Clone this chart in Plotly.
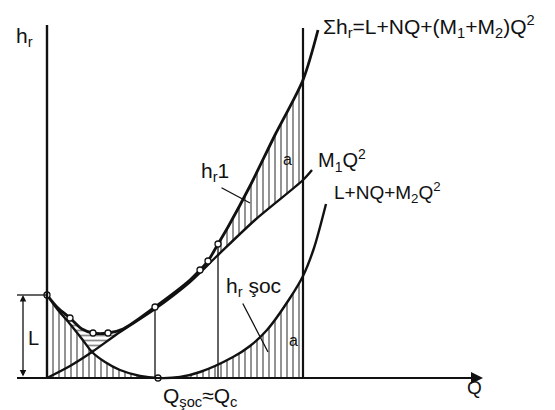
import plotly.graph_objects as go

# ---- data (arbitrary units; Q = 0 at the h axis) ----
# total head  Σh_r = L + NQ + (M1+M2)Q²
q_sum = [0, 1.1, 2.3, 3.5, 4.6, 6.1, 7.6, 10.8, 14.3, 15.3, 16.1, 17.1, 18.1, 20.3, 22.8, 25.6, 27.1]
h_sum = [8.3, 7.0, 6.0, 4.9, 4.5, 4.5, 4.9, 7.1, 9.8, 10.8, 11.7, 13.4, 15.1, 19.2, 24.3, 29.8, 34.8]

# M1·Q²
q_m1 = [0, 2.3, 4.5, 7.3, 10.8, 14.3, 17.0, 20.8, 25.6, 26.5]
h_m1 = [0, 1.2, 2.6, 4.6, 6.9, 9.6, 12.2, 15.8, 19.8, 20.8]

# L + NQ + M2·Q²
q_a = [0, 1.1, 2.3, 3.5, 4.5, 5.8, 7.3, 9.3, 11.1, 13.3, 15.3, 18.6, 20.3, 22.0, 24.3, 25.6, 26.7, 27.9]
h_a = [8.3, 6.8, 5.4, 3.9, 2.6, 1.6, 0.8, 0.2, 0, 0.1, 0.6, 2.1, 3.2, 4.8, 8.0, 10.2, 13.0, 17.4]

L_value = 8.3
q_soc = 10.8        # Q_şoc ≈ Q_c (drop line)
q_mid = 17.1        # second drop line
q_c = 25.6          # operating flow (tall vertical line)
h_top_qc = 35.0
h_axis_top = 35.3
q_axis_end = 43.6

sum_marker_idx = [0, 2, 4, 5, 7, 9, 10, 11]
a_marker_idx = [8]

FONT = "Liberation Sans"
BLACK = "#111111"

fig = go.Figure()

# --- hatched areas ---
i_c_a = q_a.index(q_c)
fig.add_trace(go.Scatter(
    x=q_a[:i_c_a + 1], y=h_a[:i_c_a + 1], mode="lines", line=dict(width=0, shape="spline"),
    fill="tozeroy", fillcolor="rgba(0,0,0,0)",
    fillpattern=dict(shape="|", size=6, solidity=0.3, fgcolor=BLACK, bgcolor="white"),
    hoverinfo="skip", showlegend=False))

i_c_s = q_sum.index(q_c)
i_c_m = q_m1.index(q_c)
i_mid_s = q_sum.index(q_mid)
poly_x = q_sum[i_mid_s:i_c_s + 1] + q_m1[6:i_c_m + 1][::-1]
poly_y = h_sum[i_mid_s:i_c_s + 1] + h_m1[6:i_c_m + 1][::-1]
fig.add_trace(go.Scatter(
    x=poly_x, y=poly_y, mode="lines", line=dict(width=0),
    fill="toself", fillcolor="rgba(0,0,0,0)",
    fillpattern=dict(shape="|", size=6, solidity=0.3, fgcolor=BLACK, bgcolor="white"),
    hoverinfo="skip", showlegend=False))

poly2_x = q_sum[0:7] + q_m1[2:4][::-1] + q_a[0:5][::-1]
poly2_y = h_sum[0:7] + h_m1[2:4][::-1] + h_a[0:5][::-1]
fig.add_trace(go.Scatter(
    x=poly2_x, y=poly2_y, mode="lines", line=dict(width=0),
    fill="toself", fillcolor="rgba(0,0,0,0)",
    fillpattern=dict(shape="-", size=5, solidity=0.35, fgcolor=BLACK, bgcolor="white"),
    hoverinfo="skip", showlegend=False))

# --- drop lines ---
for qq, hh, w in [(q_soc, h_sum[q_sum.index(q_soc)], 1.3),
                  (q_mid, h_sum[q_sum.index(q_mid)], 1.3),
                  (q_c, h_top_qc, 2.2)]:
    fig.add_trace(go.Scatter(x=[qq, qq], y=[0, hh], mode="lines",
                             line=dict(color=BLACK, width=w), hoverinfo="skip", showlegend=False))

# --- curves ---
for xs, ys, w in [(q_a, h_a, 2.4), (q_m1, h_m1, 2.4), (q_sum, h_sum, 2.8)]:
    fig.add_trace(go.Scatter(x=xs, y=ys, mode="lines",
                             line=dict(color=BLACK, width=w, shape="spline", smoothing=0.8),
                             hoverinfo="skip", showlegend=False))

# --- small open circles ---
fig.add_trace(go.Scatter(
    x=[q_sum[i] for i in sum_marker_idx] + [q_a[i] for i in a_marker_idx],
    y=[h_sum[i] for i in sum_marker_idx] + [h_a[i] for i in a_marker_idx],
    mode="markers", marker=dict(symbol="circle", size=6, color="white",
                                line=dict(color=BLACK, width=1.3)),
    hoverinfo="skip", showlegend=False))

# --- axes & L bracket as shapes ---
shapes = [
    dict(type="line", x0=0, y0=0, x1=0, y1=h_axis_top, line=dict(color=BLACK, width=2.4)),
    dict(type="line", x0=-3.0, y0=0, x1=q_axis_end - 0.5, y1=0, line=dict(color=BLACK, width=2)),
    dict(type="line", x0=-3.0, y0=L_value, x1=0, y1=L_value, line=dict(color=BLACK, width=1.3)),
]

def ann(text, x, y, size=17, xanchor="center", **kw):
    return dict(text=text, x=x, y=y, xref="x", yref="y", showarrow=False,
                xanchor=xanchor, yanchor="middle",
                font=dict(family=FONT, size=size, color=BLACK), **kw)

annotations = [
    # axis arrow
    dict(x=q_axis_end, y=0, ax=q_axis_end - 4, ay=0, xref="x", yref="y", axref="x", ayref="y",
         showarrow=True, arrowhead=2, arrowsize=1.2, arrowwidth=2, arrowcolor=BLACK, text=""),
    # L double arrow
    dict(x=-2.4, y=L_value, ax=-2.4, ay=0, xref="x", yref="y", axref="x", ayref="y",
         showarrow=True, arrowhead=2, arrowside="end+start", arrowsize=1, arrowwidth=1.3,
         arrowcolor=BLACK, text=""),
    # leader lines
    dict(x=20.3, y=17.5, ax=17.3, ay=19.1, xref="x", yref="y", axref="x", ayref="y",
         showarrow=True, arrowhead=0, arrowwidth=1.3, arrowcolor=BLACK, text=""),
    dict(x=22.1, y=2.6, ax=19.5, ay=7.6, xref="x", yref="y", axref="x", ayref="y",
         showarrow=True, arrowhead=0, arrowwidth=1.3, arrowcolor=BLACK, text=""),
    ann("h<sub>r</sub>", -2.3, 34.1, size=21),
    ann("Σh<sub>r</sub>=L+NQ+(M<sub>1</sub>+M<sub>2</sub>)Q<sup>2</sup>",
        27.4, 35.2, size=21, xanchor="left"),
    ann("M<sub>1</sub>Q<sup>2</sup>", 26.9, 21.8, size=20, xanchor="left"),
    ann("L+NQ+M<sub>2</sub>Q<sup>2</sup>", 28.5, 18.6, size=19, xanchor="left"),
    ann("h<sub>r</sub>1", 16.8, 20.6, size=21),
    ann("h<sub>r</sub> şoc", 20.6, 9.1, size=21),
    ann("a", 24.0, 21.9, size=16),
    ann("a", 24.6, 3.8, size=16),
    ann("L", -1.4, 4.0, size=20),
    ann("Q", 42.7, -0.9, size=19),
    ann("Q<sub>şoc</sub>≈Q<sub>c</sub>", 15.3, -1.9, size=21),
]

# page body adds an 8 px margin: the figure is drawn 8 px smaller, ranges keep the same scale
fig.update_layout(
    width=547, height=402,
    margin=dict(l=0, r=0, t=0, b=0),
    paper_bgcolor="white", plot_bgcolor="white",
    xaxis=dict(range=[-3.9, 50.8], visible=False, fixedrange=True),
    yaxis=dict(range=[-3.2, 37.0], visible=False, fixedrange=True),
    shapes=shapes, annotations=annotations, showlegend=False,
)

fig.write_html("out.html")
